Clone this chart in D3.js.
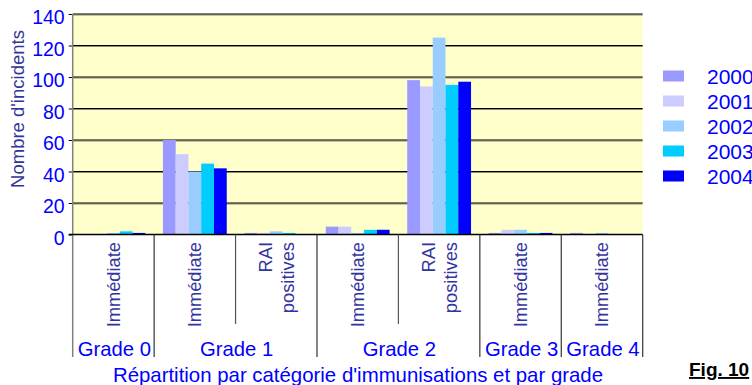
<!DOCTYPE html>
<html>
<head>
<meta charset="utf-8">
<script src="https://cdn.jsdelivr.net/npm/d3@7/dist/d3.min.js"></script>
<style>
  html, body { margin: 0; padding: 0; background: #fff; }
  svg { display: block; font-family: "Liberation Sans", Arial, sans-serif; }
</style>
</head>
<body>
<svg id="chart" width="752" height="385"></svg>
<script>
// Incidents by immunisation category and grade, 2000–2004
const categories = ["Immédiate", "Immédiate", "RAI positives", "Immédiate", "RAI positives", "Immédiate", "Immédiate"];
const grades = ["Grade 0", "Grade 1", "Grade 1", "Grade 2", "Grade 2", "Grade 3", "Grade 4"];
const years = ["2000", "2001", "2002", "2003", "2004"];
const values2000 = [0, 60, 1, 5, 98, 1, 1];
const values2001 = [0, 51, 1, 5, 94, 3, 0];
const values2002 = [1, 40, 2, 1, 125, 3, 1];
const values2003 = [2, 45, 1, 3, 95, 1, 0];
const values2004 = [1, 42, 0, 3, 97, 1, 0];
const yTicks = [0, 20, 40, 60, 80, 100, 120, 140];
const colors = ["#9999FF", "#CCCCFF", "#99CCFF", "#00CCFF", "#0000FF"];

const series = [values2000, values2001, values2002, values2003, values2004];

const svg = d3.select("#chart");
const plotLeft = 72.7, plotRight = 642.7, plotTop = 14, plotBottom = 234.5;

const x = d3.scaleBand().domain(d3.range(categories.length)).range([plotLeft, plotRight]).paddingInner(0).paddingOuter(0);
const xSub = d3.scaleBand().domain(years).range([0, x.bandwidth()]).paddingInner(0).paddingOuter(0.69);
const y = d3.scaleLinear().domain([0, 140]).range([plotBottom, plotTop]);

// plot background
svg.append("rect")
  .attr("x", plotLeft).attr("y", plotTop)
  .attr("width", plotRight - plotLeft).attr("height", plotBottom - plotTop)
  .attr("fill", "#FFFFCC");

// gridlines
const grid = svg.append("g");
yTicks.filter(d => d > 0).forEach(t => {
  grid.append("line")
    .attr("x1", plotLeft).attr("x2", plotRight)
    .attr("y1", y(t) + 1).attr("y2", y(t) + 1)
    .attr("stroke", "#8a8a70").attr("stroke-width", 1);
  grid.append("line")
    .attr("x1", plotLeft).attr("x2", plotRight)
    .attr("y1", y(t)).attr("y2", y(t))
    .attr("stroke", "#000").attr("stroke-width", 1.2);
});

// bars
series.forEach((vals, si) => {
  svg.append("g").selectAll("rect")
    .data(vals)
    .join("rect")
    .attr("x", (d, i) => x(i) + xSub(years[si]))
    .attr("width", xSub.bandwidth())
    .attr("y", d => y(d))
    .attr("height", d => y(0) - y(d))
    .attr("fill", colors[si]);
});

// y axis
const yAxis = svg.append("g")
  .attr("transform", `translate(${plotLeft},0)`)
  .call(d3.axisLeft(y).tickValues(yTicks).tickSize(4).tickPadding(4));
yAxis.select(".domain").remove();
yAxis.selectAll(".tick line").attr("stroke", "#000");
yAxis.selectAll(".tick text")
  .attr("fill", "#0000FF")
  .attr("font-size", "19.5px")
  .attr("font-family", "'Liberation Sans', Arial, sans-serif")
  .attr("dy", "0.5em");

svg.append("line")
  .attr("x1", plotLeft).attr("x2", plotLeft)
  .attr("y1", plotTop).attr("y2", 357)
  .attr("stroke", "#808080").attr("stroke-width", 1.5);

// zero line
svg.append("line")
  .attr("x1", plotLeft - 4).attr("x2", plotRight)
  .attr("y1", plotBottom).attr("y2", plotBottom)
  .attr("stroke", "#000").attr("stroke-width", 1.3);

// category separators: short inside a grade, long between grades
const bounds = d3.range(1, categories.length + 1);
bounds.forEach(i => {
  const xb = i < categories.length ? x(i) : plotRight;
  const sameGrade = i < categories.length && grades[i] === grades[i - 1];
  svg.append("line")
    .attr("x1", xb).attr("x2", xb)
    .attr("y1", plotBottom).attr("y2", sameGrade ? 324 : 357)
    .attr("stroke", sameGrade ? "#555" : "#333").attr("stroke-width", 1.2);
});

// rotated category labels
categories.forEach((c, i) => {
  const cx = x(i) + x.bandwidth() / 2;
  const parts = c === "RAI positives" ? ["RAI", "positives"] : [c];
  parts.forEach((p, k) => {
    const off = parts.length === 1 ? 0 : (k === 0 ? -11 : 11);
    svg.append("text")
      .attr("transform", `translate(${cx + off + 6.5},242) rotate(-90)`)
      .attr("text-anchor", "end")
      .attr("fill", "#3333A0")
      .attr("font-size", "18.3px")
      .text(p);
  });
});

// grade labels
const gradeGroups = d3.groups(d3.range(categories.length), i => grades[i]);
gradeGroups.forEach(([g, idx]) => {
  const x0 = x(idx[0]);
  const x1 = x(idx[idx.length - 1]) + x.bandwidth();
  svg.append("text")
    .attr("x", (x0 + x1) / 2 + 1)
    .attr("y", 356)
    .attr("text-anchor", "middle")
    .attr("fill", "#0000FF")
    .attr("font-size", "20.3px")
    .text(g);
});

// axis titles
svg.append("text")
  .attr("transform", "translate(24,109) rotate(-90)")
  .attr("text-anchor", "middle")
  .attr("fill", "#333399")
  .attr("font-size", "18.5px")
  .text("Nombre d'incidents");

svg.append("text")
  .attr("x", 358).attr("y", 382)
  .attr("text-anchor", "middle")
  .attr("fill", "#0000FF")
  .attr("font-size", "20.4px")
  .text("Répartition par catégorie d'immunisations et par grade");

// legend
const legend = svg.append("g");
years.forEach((yr, i) => {
  const cy = 76 + i * 25;
  legend.append("rect")
    .attr("x", 663).attr("y", cy - 5.5)
    .attr("width", 21).attr("height", 11)
    .attr("fill", colors[i]);
  legend.append("text")
    .attr("x", 707).attr("y", cy + 8)
    .attr("fill", "#0000FF")
    .attr("font-size", "21px")
    .text(yr);
});

// figure number
svg.append("text")
  .attr("x", 689).attr("y", 376)
  .attr("fill", "#000")
  .attr("font-size", "19px")
  .attr("font-weight", "bold")
  .attr("text-decoration", "underline")
  .text("Fig. 10");
</script>
</body>
</html>
